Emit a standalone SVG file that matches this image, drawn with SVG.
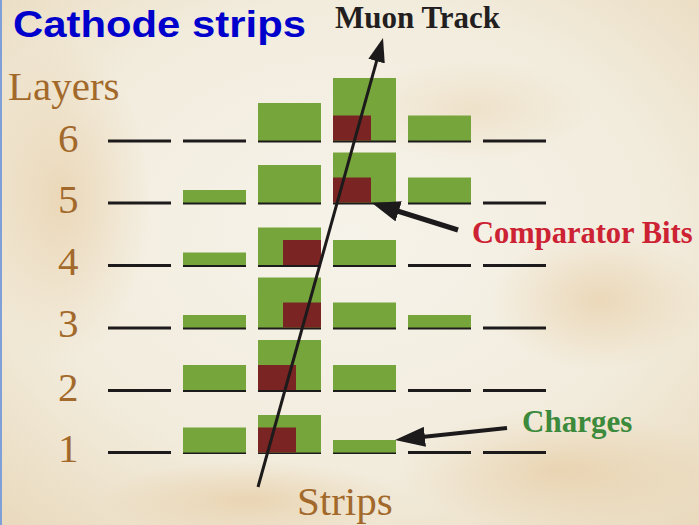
<svg xmlns="http://www.w3.org/2000/svg" width="699" height="525" viewBox="0 0 699 525">
  <defs>
    <style>
      .ln { fill: #1c1a1a; }
      .g { fill: #76A53C; }
      .r { fill: #7B2424; }
      .lay { font-family: "Liberation Serif", "Times New Roman", serif; font-size: 41px; fill: #A2692B; }
      .lbl { font-family: "Liberation Serif", "Times New Roman", serif; font-weight: bold; }
      .arrow { stroke: #1c1a1a; fill: none; stroke-linecap: butt; }
    </style>
    <radialGradient id="bgGrad" cx="50%" cy="45%" r="75%">
      <stop offset="0" stop-color="#F6F3EA"/>
      <stop offset="0.6" stop-color="#F2ECDD"/>
      <stop offset="1" stop-color="#E9D9BC"/>
    </radialGradient>
    <radialGradient id="tan" cx="50%" cy="50%" r="50%">
      <stop offset="0" stop-color="#E2BE8A" stop-opacity="0.45"/>
      <stop offset="1" stop-color="#E2BE8A" stop-opacity="0"/>
    </radialGradient>
    <marker id="headMuon" markerUnits="userSpaceOnUse" markerWidth="24" markerHeight="17" refX="18" refY="8.5" orient="auto">
      <path d="M0,0 L24,8.5 L0,17 Z" fill="#1c1a1a"/>
    </marker>
    <marker id="headComp" markerUnits="userSpaceOnUse" markerWidth="28" markerHeight="21" refX="18" refY="10.5" orient="auto">
      <path d="M0,0 L28,10.5 L0,21 Z" fill="#1c1a1a"/>
    </marker>
    <marker id="headChg" markerUnits="userSpaceOnUse" markerWidth="30" markerHeight="20" refX="22" refY="10" orient="auto">
      <path d="M0,0 L30,10 L0,20 Z" fill="#1c1a1a"/>
    </marker>
  </defs>

  <!-- background -->
  <rect x="0" y="0" width="699" height="525" fill="url(#bgGrad)"/>
  <ellipse cx="60" cy="200" rx="90" ry="160" fill="url(#tan)"/>
  <ellipse cx="560" cy="470" rx="160" ry="60" fill="url(#tan)"/>
  <ellipse cx="600" cy="300" rx="110" ry="70" fill="url(#tan)"/>
  <ellipse cx="250" cy="500" rx="150" ry="40" fill="url(#tan)"/>
  <ellipse cx="470" cy="110" rx="120" ry="50" fill="url(#tan)" opacity="0.6"/>
  <rect x="0" y="0" width="2" height="525" fill="#7F9FD8"/>

  <!-- title -->
  <text x="13" y="37" font-family="'Liberation Sans', Arial, sans-serif" font-weight="bold" font-size="36" fill="#0000CC" textLength="293" lengthAdjust="spacingAndGlyphs">Cathode strips</text>

  <!-- layer labels -->
  <g id="layer-labels">
    <text class="lay" x="8" y="100" font-size="40">Layers</text>
    <text class="lay" x="58" y="152">6</text>
    <text class="lay" x="58" y="213">5</text>
    <text class="lay" x="58" y="275">4</text>
    <text class="lay" x="58" y="337">3</text>
    <text class="lay" x="58" y="401">2</text>
    <text class="lay" x="58" y="462">1</text>
  </g>

  <!-- layer 6 -->
  <g id="layer6">
    <rect class="ln" x="108" y="139.5" width="63" height="3"/>
    <rect class="ln" x="183" y="139.5" width="63" height="3"/>
    <rect class="ln" x="258" y="139.5" width="63" height="3"/>
    <rect class="ln" x="333" y="139.5" width="63" height="3"/>
    <rect class="ln" x="408" y="139.5" width="63" height="3"/>
    <rect class="ln" x="483" y="139.5" width="63" height="3"/>
    <rect class="g" x="258" y="103" width="63" height="37.5"/>
    <rect class="g" x="333" y="78" width="63" height="62.5"/>
    <rect class="r" x="333" y="115.5" width="38" height="25"/>
    <rect class="g" x="408" y="115.5" width="63" height="25"/>
  </g>

  <!-- layer 5 -->
  <g id="layer5">
    <rect class="ln" x="108" y="201.5" width="63" height="3"/>
    <rect class="ln" x="183" y="201.5" width="63" height="3"/>
    <rect class="ln" x="258" y="201.5" width="63" height="3"/>
    <rect class="ln" x="333" y="201.5" width="63" height="3"/>
    <rect class="ln" x="408" y="201.5" width="63" height="3"/>
    <rect class="ln" x="483" y="201.5" width="63" height="3"/>
    <rect class="g" x="183" y="190" width="63" height="12.5"/>
    <rect class="g" x="258" y="165" width="63" height="37.5"/>
    <rect class="g" x="333" y="152.5" width="63" height="50"/>
    <rect class="r" x="333" y="177.5" width="38" height="25"/>
    <rect class="g" x="408" y="177.5" width="63" height="25"/>
  </g>

  <!-- layer 4 -->
  <g id="layer4">
    <rect class="ln" x="108" y="264" width="63" height="3"/>
    <rect class="ln" x="183" y="264" width="63" height="3"/>
    <rect class="ln" x="258" y="264" width="63" height="3"/>
    <rect class="ln" x="333" y="264" width="63" height="3"/>
    <rect class="ln" x="408" y="264" width="63" height="3"/>
    <rect class="ln" x="483" y="264" width="63" height="3"/>
    <rect class="g" x="183" y="252.5" width="63" height="12.5"/>
    <rect class="g" x="258" y="227.5" width="63" height="37.5"/>
    <rect class="r" x="283" y="240" width="38" height="25"/>
    <rect class="g" x="333" y="240" width="63" height="25"/>
  </g>

  <!-- layer 3 -->
  <g id="layer3">
    <rect class="ln" x="108" y="326.5" width="63" height="3"/>
    <rect class="ln" x="183" y="326.5" width="63" height="3"/>
    <rect class="ln" x="258" y="326.5" width="63" height="3"/>
    <rect class="ln" x="333" y="326.5" width="63" height="3"/>
    <rect class="ln" x="408" y="326.5" width="63" height="3"/>
    <rect class="ln" x="483" y="326.5" width="63" height="3"/>
    <rect class="g" x="183" y="315" width="63" height="12.5"/>
    <rect class="g" x="258" y="277.5" width="63" height="50"/>
    <rect class="r" x="283" y="302.5" width="38" height="25"/>
    <rect class="g" x="333" y="302.5" width="63" height="25"/>
    <rect class="g" x="408" y="315" width="63" height="12.5"/>
  </g>

  <!-- layer 2 -->
  <g id="layer2">
    <rect class="ln" x="108" y="389" width="63" height="3"/>
    <rect class="ln" x="183" y="389" width="63" height="3"/>
    <rect class="ln" x="258" y="389" width="63" height="3"/>
    <rect class="ln" x="333" y="389" width="63" height="3"/>
    <rect class="ln" x="408" y="389" width="63" height="3"/>
    <rect class="ln" x="483" y="389" width="63" height="3"/>
    <rect class="g" x="183" y="365" width="63" height="25"/>
    <rect class="g" x="258" y="340" width="63" height="50"/>
    <rect class="r" x="258" y="365" width="38" height="25"/>
    <rect class="g" x="333" y="365" width="63" height="25"/>
  </g>

  <!-- layer 1 -->
  <g id="layer1">
    <rect class="ln" x="108" y="451" width="63" height="3"/>
    <rect class="ln" x="183" y="451" width="63" height="3"/>
    <rect class="ln" x="258" y="451" width="63" height="3"/>
    <rect class="ln" x="333" y="451" width="63" height="3"/>
    <rect class="ln" x="408" y="451" width="63" height="3"/>
    <rect class="ln" x="483" y="451" width="63" height="3"/>
    <rect class="g" x="183" y="427.5" width="63" height="25"/>
    <rect class="g" x="258" y="415" width="63" height="37.5"/>
    <rect class="r" x="258" y="427.5" width="38" height="25"/>
    <rect class="g" x="333" y="440" width="63" height="12.5"/>
  </g>

  <!-- connectors -->
  <g id="connectors">
    <line class="arrow" x1="258" y1="487" x2="381.4" y2="43.8" stroke-width="3" marker-end="url(#headMuon)"/>
    <line class="arrow" x1="458" y1="230" x2="381.5" y2="206" stroke-width="5" marker-end="url(#headComp)"/>
    <line class="arrow" x1="507" y1="428" x2="403" y2="439.1" stroke-width="4" marker-end="url(#headChg)"/>
  </g>

  <!-- labels -->
  <g id="label-muon"><text class="lbl" x="335" y="28" font-size="31" fill="#231F20">Muon Track</text></g>
  <g id="label-comparator"><text class="lbl" x="472" y="243" font-size="30.5" fill="#CC2233">Comparator Bits</text></g>
  <g id="label-charges"><text class="lbl" x="522" y="432" font-size="31" fill="#3C8A3C">Charges</text></g>
  <g id="label-strips"><text class="lay" x="297" y="515" font-size="41">Strips</text></g>
</svg>
